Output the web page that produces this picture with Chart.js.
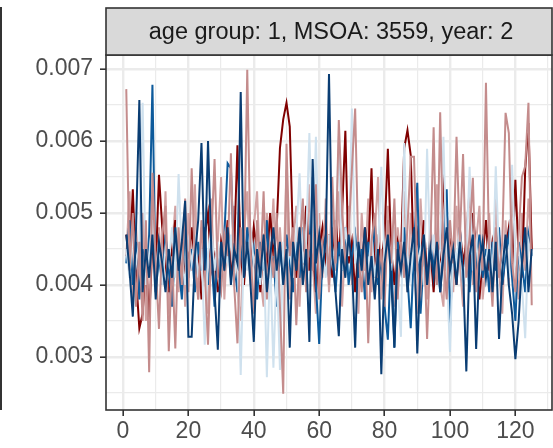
<!DOCTYPE html>
<html>
<head>
<meta charset="utf-8">
<script src="https://cdn.jsdelivr.net/npm/chart.js@4.4.1/dist/chart.umd.min.js"></script>
<style>
html, body { margin: 0; padding: 0; background: #ffffff; }
canvas { display: block; }
</style>
</head>
<body>
<canvas id="rates" width="553" height="448"></canvas>
<script>
var stripLabel = "age group: 1, MSOA: 3559, year: 2";
var steps = Array.from({length: 125}, (_, i) => i + 1);

// rates, in units of 1/1000
var darkRed = [4.7, 4.3, 5.33, 4.1, 3.4, 3.6, 4.4, 3.5, 4.6, 4.2,
  5.53, 4.8, 4.3, 3.9, 4.5, 4.9, 4.2, 4.6, 4.0, 4.4,
  4.8, 4.1, 4.5, 3.8, 4.7, 5.0, 4.2, 4.4, 3.9, 4.6,
  4.3, 4.9, 4.1, 4.5, 5.94, 4.4, 4.0, 4.7, 4.2, 4.8,
  4.5, 3.9, 4.6, 4.3, 5.0, 4.4, 4.8, 5.9, 6.3, 6.53,
  6.2, 4.6, 4.1, 4.7, 4.4, 5.1, 4.2, 4.6, 3.9, 4.5,
  4.8, 4.3, 4.7, 4.1, 4.9, 4.4, 5.0, 6.14, 4.3, 4.6,
  3.9, 4.5, 4.2, 4.8, 4.4, 5.62, 4.1, 4.6, 4.3, 4.7,
  5.89, 4.5, 4.0, 4.6, 4.4, 5.9, 6.15, 5.8, 4.2, 4.7,
  4.3, 4.9, 4.1, 4.5, 3.9, 4.6, 4.4, 5.54, 4.2, 4.7,
  4.4, 4.0, 4.8, 4.3, 4.6, 4.1, 5.0, 4.5, 3.8, 4.4,
  4.9, 4.2, 4.6, 4.3, 4.7, 4.0, 4.5, 4.8, 4.2, 5.46,
  4.4, 4.1, 5.6, 6.25, 4.5];
var rose = [6.72, 4.2, 5.0, 3.7, 4.6, 3.5, 4.9, 2.79, 5.56, 4.3,
  3.39, 4.7, 5.1, 3.08, 4.4, 3.12, 4.8, 4.0, 5.2, 3.9,
  5.62, 4.3, 3.8, 4.9, 4.2, 3.17, 4.6, 5.75, 4.1, 3.9,
  4.7, 4.4, 5.83, 4.0, 3.19, 4.8, 4.3, 6.99, 4.5, 3.6,
  4.9, 4.2, 5.3, 3.8, 4.6, 4.1, 5.0, 3.7, 2.49, 5.96,
  4.4, 4.8, 3.44, 4.5, 5.2, 3.9, 4.7, 4.2, 5.4, 3.8,
  4.6, 4.9, 4.0, 5.5, 4.3, 6.29, 5.1, 4.2, 4.7, 5.6,
  6.45, 4.4, 3.9, 4.8, 3.19, 4.6, 5.0, 4.1, 4.5, 3.7,
  4.9, 4.3, 5.2, 3.8, 4.6, 4.1, 4.8, 5.78, 5.78, 4.2,
  3.9, 4.7, 3.25, 4.5, 6.19, 4.0, 6.40, 4.4, 3.8, 4.9,
  4.3, 6.06, 4.6, 5.82, 4.1, 4.7, 5.49, 3.9, 4.5, 4.2,
  6.81, 4.4, 3.7, 4.8, 4.1, 4.6, 6.39, 6.11, 4.3, 3.9,
  4.7, 5.5, 5.65, 6.53, 3.72];
var lightRose = [4.4, 5.3, 3.7, 4.8, 4.0, 5.0, 3.5, 4.6, 5.2, 3.9,
  4.8, 4.0, 5.3, 3.6, 4.5, 5.1, 3.9, 4.7, 3.7, 5.0,
  4.2, 5.4, 3.8, 4.8, 4.3, 3.6, 5.2, 4.0, 4.6, 5.5,
  3.8, 4.8, 4.2, 5.1, 3.9, 3.5, 4.7, 5.3, 4.0, 4.8,
  5.3, 4.1, 3.7, 5.0, 4.3, 5.2, 3.9, 4.8, 4.0, 5.6,
  3.8, 4.6, 5.1, 3.7, 4.8, 4.0, 5.4, 4.3, 3.6, 5.0,
  4.1, 5.2, 3.9, 4.8, 4.2, 5.3, 3.7, 4.6, 5.1, 4.0,
  4.8, 3.6, 5.0, 4.2, 5.2, 3.9, 4.7, 5.5, 3.8, 4.5,
  5.1, 4.0, 3.7, 4.8, 4.3, 5.3, 3.9, 5.0, 4.2, 3.6,
  5.2, 4.3, 3.8, 4.9, 4.1, 5.4, 4.0, 3.7, 5.0, 4.6,
  3.9, 5.1, 4.3, 3.7, 4.8, 5.3, 4.0, 4.6, 5.1, 3.8,
  4.3, 5.0, 3.9, 5.2, 4.2, 3.6, 4.9, 4.0, 5.3, 4.4,
  3.8, 5.0, 4.2, 5.2, 4.5];
var navy = [4.7, 4.2, 3.56, 4.8, 6.57, 3.9, 4.5, 4.1, 4.7, 3.8,
  4.6, 4.3, 3.9, 4.5, 4.1, 4.8, 4.2, 4.6, 5.17, 3.28,
  3.28, 4.4, 4.9, 5.97, 4.2, 6.0, 4.5, 3.9, 3.1, 4.6,
  4.2, 4.8, 4.0, 4.5, 4.3, 6.68, 4.1, 4.6, 4.0, 3.21,
  4.5, 4.1, 4.7, 3.9, 4.4, 4.8, 4.2, 4.6, 4.0, 4.5,
  3.13, 4.6, 4.2, 4.8, 4.0, 4.5, 3.21, 5.75, 4.3, 4.7,
  4.2, 4.6, 6.93, 4.4, 3.9, 3.29, 4.5, 4.1, 4.7, 4.3,
  3.13, 4.6, 4.2, 4.8, 4.0, 4.4, 3.8, 4.5, 2.76, 4.3,
  4.7, 4.1, 3.13, 4.5, 4.2, 4.6, 3.9, 4.4, 4.8, 3.05,
  4.3, 4.7, 4.0, 4.5, 4.1, 4.6, 3.9, 4.4, 4.8, 4.2,
  4.5, 4.0, 4.6, 4.2, 2.8, 4.4, 4.7, 3.11, 4.3, 4.6,
  4.1, 4.5, 3.9, 4.6, 3.25, 4.2, 4.7, 4.0, 3.6, 2.97,
  3.5, 4.3, 4.8, 3.9, 4.5];
var blue = [4.3, 4.9, 4.0, 4.6, 3.8, 4.5, 4.1, 4.7, 6.78, 3.9,
  4.4, 4.0, 4.7, 4.2, 3.7, 4.6, 4.3, 3.8, 4.9, 4.1,
  4.5, 3.9, 4.6, 4.2, 4.8, 4.0, 4.4, 3.7, 4.5, 4.1,
  4.7, 5.69, 5.62, 4.3, 3.9, 4.6, 4.1, 4.8, 4.2, 4.5,
  3.8, 4.6, 4.2, 4.9, 4.0, 4.4, 3.7, 4.5, 4.1, 4.7,
  4.3, 3.9, 4.6, 4.1, 4.8, 4.2, 4.5, 5.5, 4.0, 3.18,
  4.4, 4.7, 4.1, 4.5, 3.9, 4.6, 4.2, 4.8, 4.0, 4.4,
  4.7, 4.1, 4.5, 3.8, 4.6, 4.2, 4.9, 4.0, 4.4, 3.7,
  3.24, 4.5, 3.13, 4.6, 4.2, 4.8, 4.1, 3.4, 4.5, 5.42,
  3.6, 4.4, 4.0, 4.7, 4.2, 4.6, 3.9, 4.5, 5.33, 3.4,
  4.6, 4.2, 4.8, 4.0, 4.5, 3.9, 4.6, 4.3, 4.7, 4.1,
  4.5, 3.9, 4.6, 4.2, 4.8, 4.0, 4.4, 4.7, 4.1, 3.5,
  4.6, 4.3, 3.9, 4.7, 4.4];
var lightBlue = [4.5, 4.1, 4.8, 4.3, 4.6, 6.53, 4.0, 4.4, 4.9, 4.2,
  4.6, 4.0, 4.5, 4.3, 4.8, 4.1, 5.54, 4.4, 4.0, 4.6,
  4.3, 4.7, 4.1, 4.5, 3.17, 4.4, 4.8, 4.2, 4.6, 4.0,
  4.5, 4.3, 4.7, 4.1, 4.4, 2.75, 4.6, 4.2, 4.8, 4.3,
  4.5, 4.0, 4.6, 2.72, 4.4, 2.85, 4.3, 2.82, 4.6, 4.2,
  4.5, 4.1, 4.7, 5.55, 4.3, 4.6, 6.11, 4.4, 6.06, 4.2,
  4.5, 4.1, 4.7, 4.3, 4.6, 6.07, 4.2, 4.8, 4.4, 6.45,
  4.3, 4.6, 4.0, 4.5, 4.2, 4.7, 4.1, 4.5, 5.64, 4.3,
  4.6, 4.2, 4.8, 4.0, 3.28, 5.97, 4.4, 4.1, 4.6, 4.3,
  4.5, 4.0, 5.89, 4.3, 4.7, 4.1, 4.5, 6.06, 4.2, 3.07,
  4.6, 4.3, 4.8, 4.0, 4.4, 5.64, 4.2, 4.6, 4.1, 4.5,
  4.3, 4.7, 4.0, 5.65, 4.4, 4.2, 4.6, 4.1, 5.67, 4.3,
  4.5, 4.0, 3.26, 4.6, 4.4];

var yTicks = [0.003, 0.004, 0.005, 0.006, 0.007];
var yMinor = [0.0025, 0.0035, 0.0045, 0.0055, 0.0065];
var xTicks = [0, 20, 40, 60, 80, 100, 120];
var xMinor = [10, 30, 50, 70, 90, 110, 130];

// first entry is drawn on top
var seriesList = [
  {values: navy, color: "#0a3d73"},
  {values: rose, color: "#c48c8c"},
  {values: lightBlue, color: "#cfe1ee"},
  {values: blue, color: "#0d5a9b"},
  {values: darkRed, color: "#800000"},
  {values: lightRose, color: "#d2a3a3"}
];

var font = {family: "'Liberation Sans', Arial, sans-serif", size: 23};

function gridWidth(majors) {
  return function (c) { return c.tick && majors.includes(c.tick.value) ? 2.4 : 1.2; };
}
function tickColor(majors) {
  return function (c) { return c.tick && majors.includes(c.tick.value) ? "#333333" : "rgba(0,0,0,0)"; };
}

var panelDecor = {
  id: "panelDecor",
  afterDraw: function (chart) {
    var a = chart.chartArea, c = chart.ctx;
    c.save();
    c.strokeStyle = "#333333";
    c.lineWidth = 1.6;
    c.strokeRect(a.left, a.top, a.right - a.left, a.bottom - a.top);
    c.fillStyle = "#d9d9d9";
    c.fillRect(a.left, 8, a.right - a.left, a.top - 8);
    c.strokeRect(a.left, 8, a.right - a.left, a.top - 8);
    c.fillStyle = "#1a1a1a";
    c.font = "23.5px 'Liberation Sans', Arial, sans-serif";
    c.textAlign = "center";
    c.textBaseline = "middle";
    c.fillText(stripLabel, (a.left + a.right) / 2 + 2, (8 + a.top) / 2 + 1);
    c.fillStyle = "#333333";
    c.fillRect(0, 7, 2, a.bottom - 7);
    c.restore();
  }
};

new Chart(document.getElementById("rates"), {
  type: "line",
  data: {
    datasets: seriesList.map(function (s) {
      return {
        data: s.values.map(function (v, i) { return {x: steps[i], y: v / 1000}; }),
        borderColor: s.color,
        borderWidth: 2,
        pointRadius: 0,
        tension: 0,
        fill: false
      };
    })
  },
  options: {
    responsive: false,
    animation: false,
    layout: {padding: {top: 55, right: 1, left: 0, bottom: 0}},
    plugins: {legend: {display: false}, tooltip: {enabled: false}},
    scales: {
      x: {
        type: "linear",
        min: -5.2,
        max: 131.2,
        afterBuildTicks: function (scale) {
          scale.ticks = xTicks.concat(xMinor).sort(function (p, q) { return p - q; }).map(function (v) { return {value: v}; });
        },
        afterFit: function (scale) { scale.height = 38; },
        border: {display: false},
        grid: {color: "#ebebeb", lineWidth: gridWidth(xTicks), tickLength: 6, tickColor: tickColor(xTicks), tickWidth: 1.6},
        ticks: {
          autoSkip: false,
          maxRotation: 0,
          padding: 2,
          color: "#4d4d4d",
          font: font,
          callback: function (v) { return xTicks.includes(v) ? String(v) : ""; }
        }
      },
      y: {
        type: "linear",
        min: 0.002264,
        max: 0.007194,
        afterBuildTicks: function (scale) {
          scale.ticks = yTicks.concat(yMinor).sort(function (p, q) { return p - q; }).map(function (v) { return {value: v}; });
        },
        afterFit: function (scale) { scale.width = 106; },
        border: {display: false},
        grid: {color: "#ebebeb", lineWidth: gridWidth(yTicks), tickLength: 6, tickColor: tickColor(yTicks), tickWidth: 1.6},
        ticks: {
          autoSkip: false,
          padding: 7,
          color: "#4d4d4d",
          font: font,
          callback: function (v) { return yTicks.includes(v) ? v.toFixed(3) : ""; }
        }
      }
    }
  },
  plugins: [panelDecor]
});
</script>
</body>
</html>
